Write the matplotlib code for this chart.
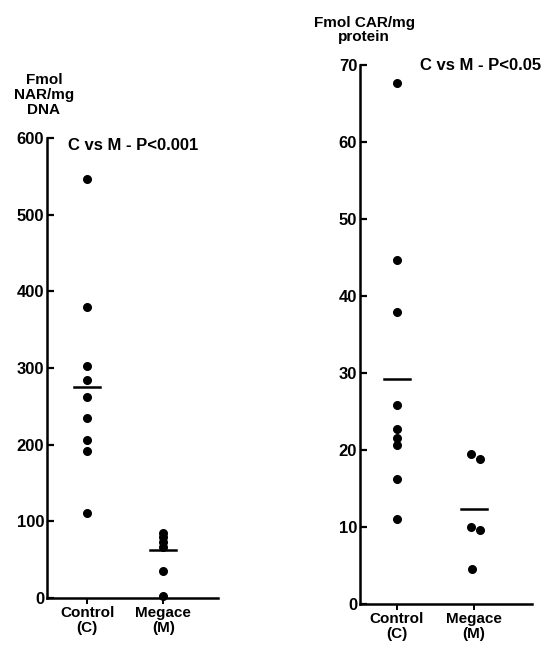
import matplotlib.pyplot as plt

plt.rcParams["font.family"] = ["Liberation Sans", "DejaVu Sans"]
plt.rcParams["font.weight"] = "bold"

GROUPS = ["Control\n(C)", "Megace\n(M)"]

# left panel: NAR
nar_x = [1, 1, 1, 1, 1, 1, 1, 1, 1, 2, 2, 2, 2, 2, 2]
nar_y = [547, 379, 302, 285, 262, 235, 206, 192, 111, 85, 79, 73, 67, 35, 2]
nar_means = [275, 62]
nar_ticks = [0, 100, 200, 300, 400, 500, 600]

# right panel: CAR
car_x = [1, 1, 1, 1, 1, 1, 1, 1, 1, 1.96, 2.08, 1.96, 2.08, 1.97]
car_y = [67.6, 44.7, 37.9, 25.8, 22.7, 21.6, 20.6, 16.2, 11.1, 19.5, 18.8, 10.0, 9.6, 4.6]
car_means = [29.2, 12.3]
car_ticks = [0, 10, 20, 30, 40, 50, 60, 70]


def draw_panel(ax, xs, ys, means, ticks, ylim, xlim, note, note_xy, ylabel, ylabel_xy):
    ax.scatter(xs, ys, s=30, color="black", zorder=3, clip_on=False)
    for i, m in enumerate(means):
        ax.plot([i + 1 - 0.17, i + 1 + 0.17], [m, m], color="black", lw=1.8)

    ax.set_xlim(*xlim)
    ax.set_ylim(*ylim)
    ax.set_yticks(ticks)
    ax.set_yticklabels([str(t) for t in ticks], fontsize=12, fontweight="bold")
    ax.set_xticks([1, 2])
    ax.set_xticklabels(GROUPS, fontsize=11, linespacing=1.05)

    for side in ["top", "right"]:
        ax.spines[side].set_visible(False)
    for side in ["left", "bottom"]:
        ax.spines[side].set_linewidth(1.8)

    ax.tick_params(axis="y", direction="in", length=5, width=1.6, pad=2)
    ax.tick_params(axis="x", direction="out", length=4, width=1.4, pad=2)

    ax.text(note_xy[0], note_xy[1], note, transform=ax.figure.transFigure,
            fontsize=12, va="center", ha="left")
    ax.text(ylabel_xy[0], ylabel_xy[1], ylabel, transform=ax.figure.transFigure,
            fontsize=11, va="center", ha="center", linespacing=1.05)


fig = plt.figure(figsize=(5.53, 6.46), dpi=100)

W, H = 553, 646

# left axes: y-axis at x=47 px, x-axis 598 px, top 138 px
ax1 = fig.add_axes([47 / W, 1 - 598 / H, (218 - 47) / W, (598 - 138) / H])
draw_panel(ax1, nar_x, nar_y, nar_means, nar_ticks, (0, 600), (0.47, 2.72),
           "C vs M - P<0.001", (68 / W, 1 - 145 / H),
           "Fmol\nNAR/mg\nDNA", (44 / W, 1 - 95 / H))

# right axes: y-axis at x=360 px, x-axis 604 px, top 65 px
ax2 = fig.add_axes([360 / W, 1 - 604 / H, (532 - 360) / W, (604 - 65) / H])
draw_panel(ax2, car_x, car_y, car_means, car_ticks, (0, 70), (0.52, 2.75),
           "C vs M - P<0.05", (420 / W, 1 - 65 / H),
           "Fmol CAR/mg\nprotein", (364 / W, 1 - 30 / H))

fig.savefig("out.png", dpi=100)
